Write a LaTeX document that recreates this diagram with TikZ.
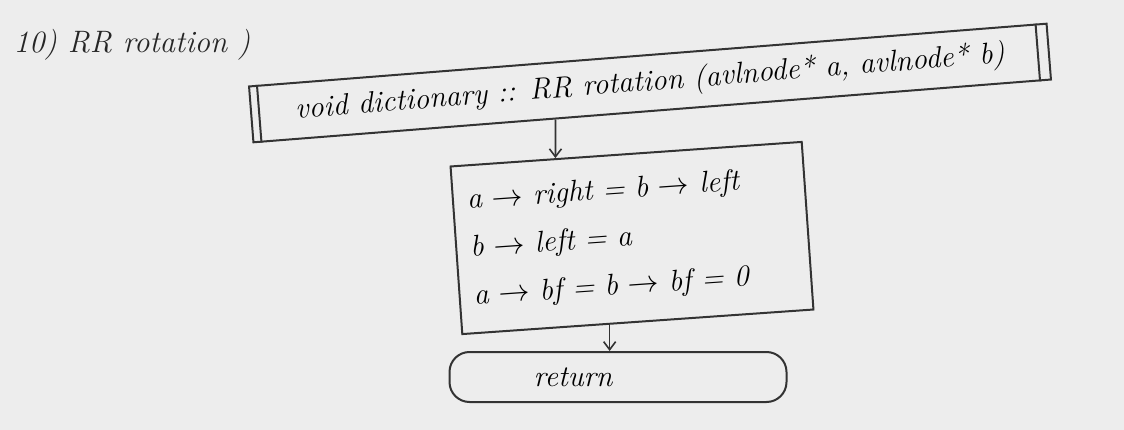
\documentclass[tikz,border=0pt]{standalone}
\usepackage{fontspec}
\usepackage{graphicx}
\newcommand\myarr{\scalebox{1.25}{$\rightarrow$}}
\usetikzlibrary{calc,arrows.meta}
\begin{document}
\begin{tikzpicture}[x=1pt,y=-1pt,
  pencil/.style={draw=black!80,line width=2pt},
  hdrbox/.style={pencil,minimum width=800pt,minimum height=56pt,inner sep=0pt,rotate=4.5,font=\fontsize{30}{34}\selectfont\itshape},
  procbox/.style={pencil,minimum width=352pt,minimum height=168pt,inner xsep=14pt,inner ysep=0pt,rotate=4,text width=324pt,align=left,font=\fontsize{30}{48}\selectfont\itshape},
  termbox/.style={pencil,rounded corners=20pt,minimum width=337pt,minimum height=50pt,inner sep=0pt,font=\fontsize{30}{34}\selectfont\itshape},
  flow/.style={draw=black!80,line width=1.6pt,-{Straight Barb[length=8pt,width=12pt]}},
  titletext/.style={font=\fontsize{31}{36}\selectfont\itshape,text=black!85}
]
\fill[black!7] (0,0) rectangle (1124,430);
\useasboundingbox (0,0) rectangle (1124,430);

\node[titletext,anchor=west] (title) at (10,45) {10) RR rotation )};

\node[hdrbox] (hdr) at (650,83) {void dictionary :: RR rotation (avlnode* a, avlnode* b)};
\draw[pencil] ($(hdr.north west)!9pt!(hdr.north east)$) -- ($(hdr.south west)!9pt!(hdr.south east)$);
\draw[pencil] ($(hdr.north east)!12pt!(hdr.north west)$) -- ($(hdr.south east)!12pt!(hdr.south west)$);

\node[procbox] (box) at (632,238) {a \myarr{} right = b \myarr{} left\\
b \myarr{} left = a\\
a \myarr{} bf = b \myarr{} bf = 0};

\node[termbox] (ret) at (618,377) {return\hspace*{90pt}};

\coordinate (bt) at ($(box.north west)!0.3!(box.north east)$);
\coordinate (bt2) at ($(bt)+(0,-50)$);
\coordinate (ht) at (intersection of hdr.south west--hdr.south east and bt--bt2);
\draw[flow] (ht) -- (bt);
\coordinate (bb) at ($(box.south west)!0.42!(box.south east)$);
\draw[flow] (bb) -- (ret.north -| bb);
\end{tikzpicture}
\end{document}
